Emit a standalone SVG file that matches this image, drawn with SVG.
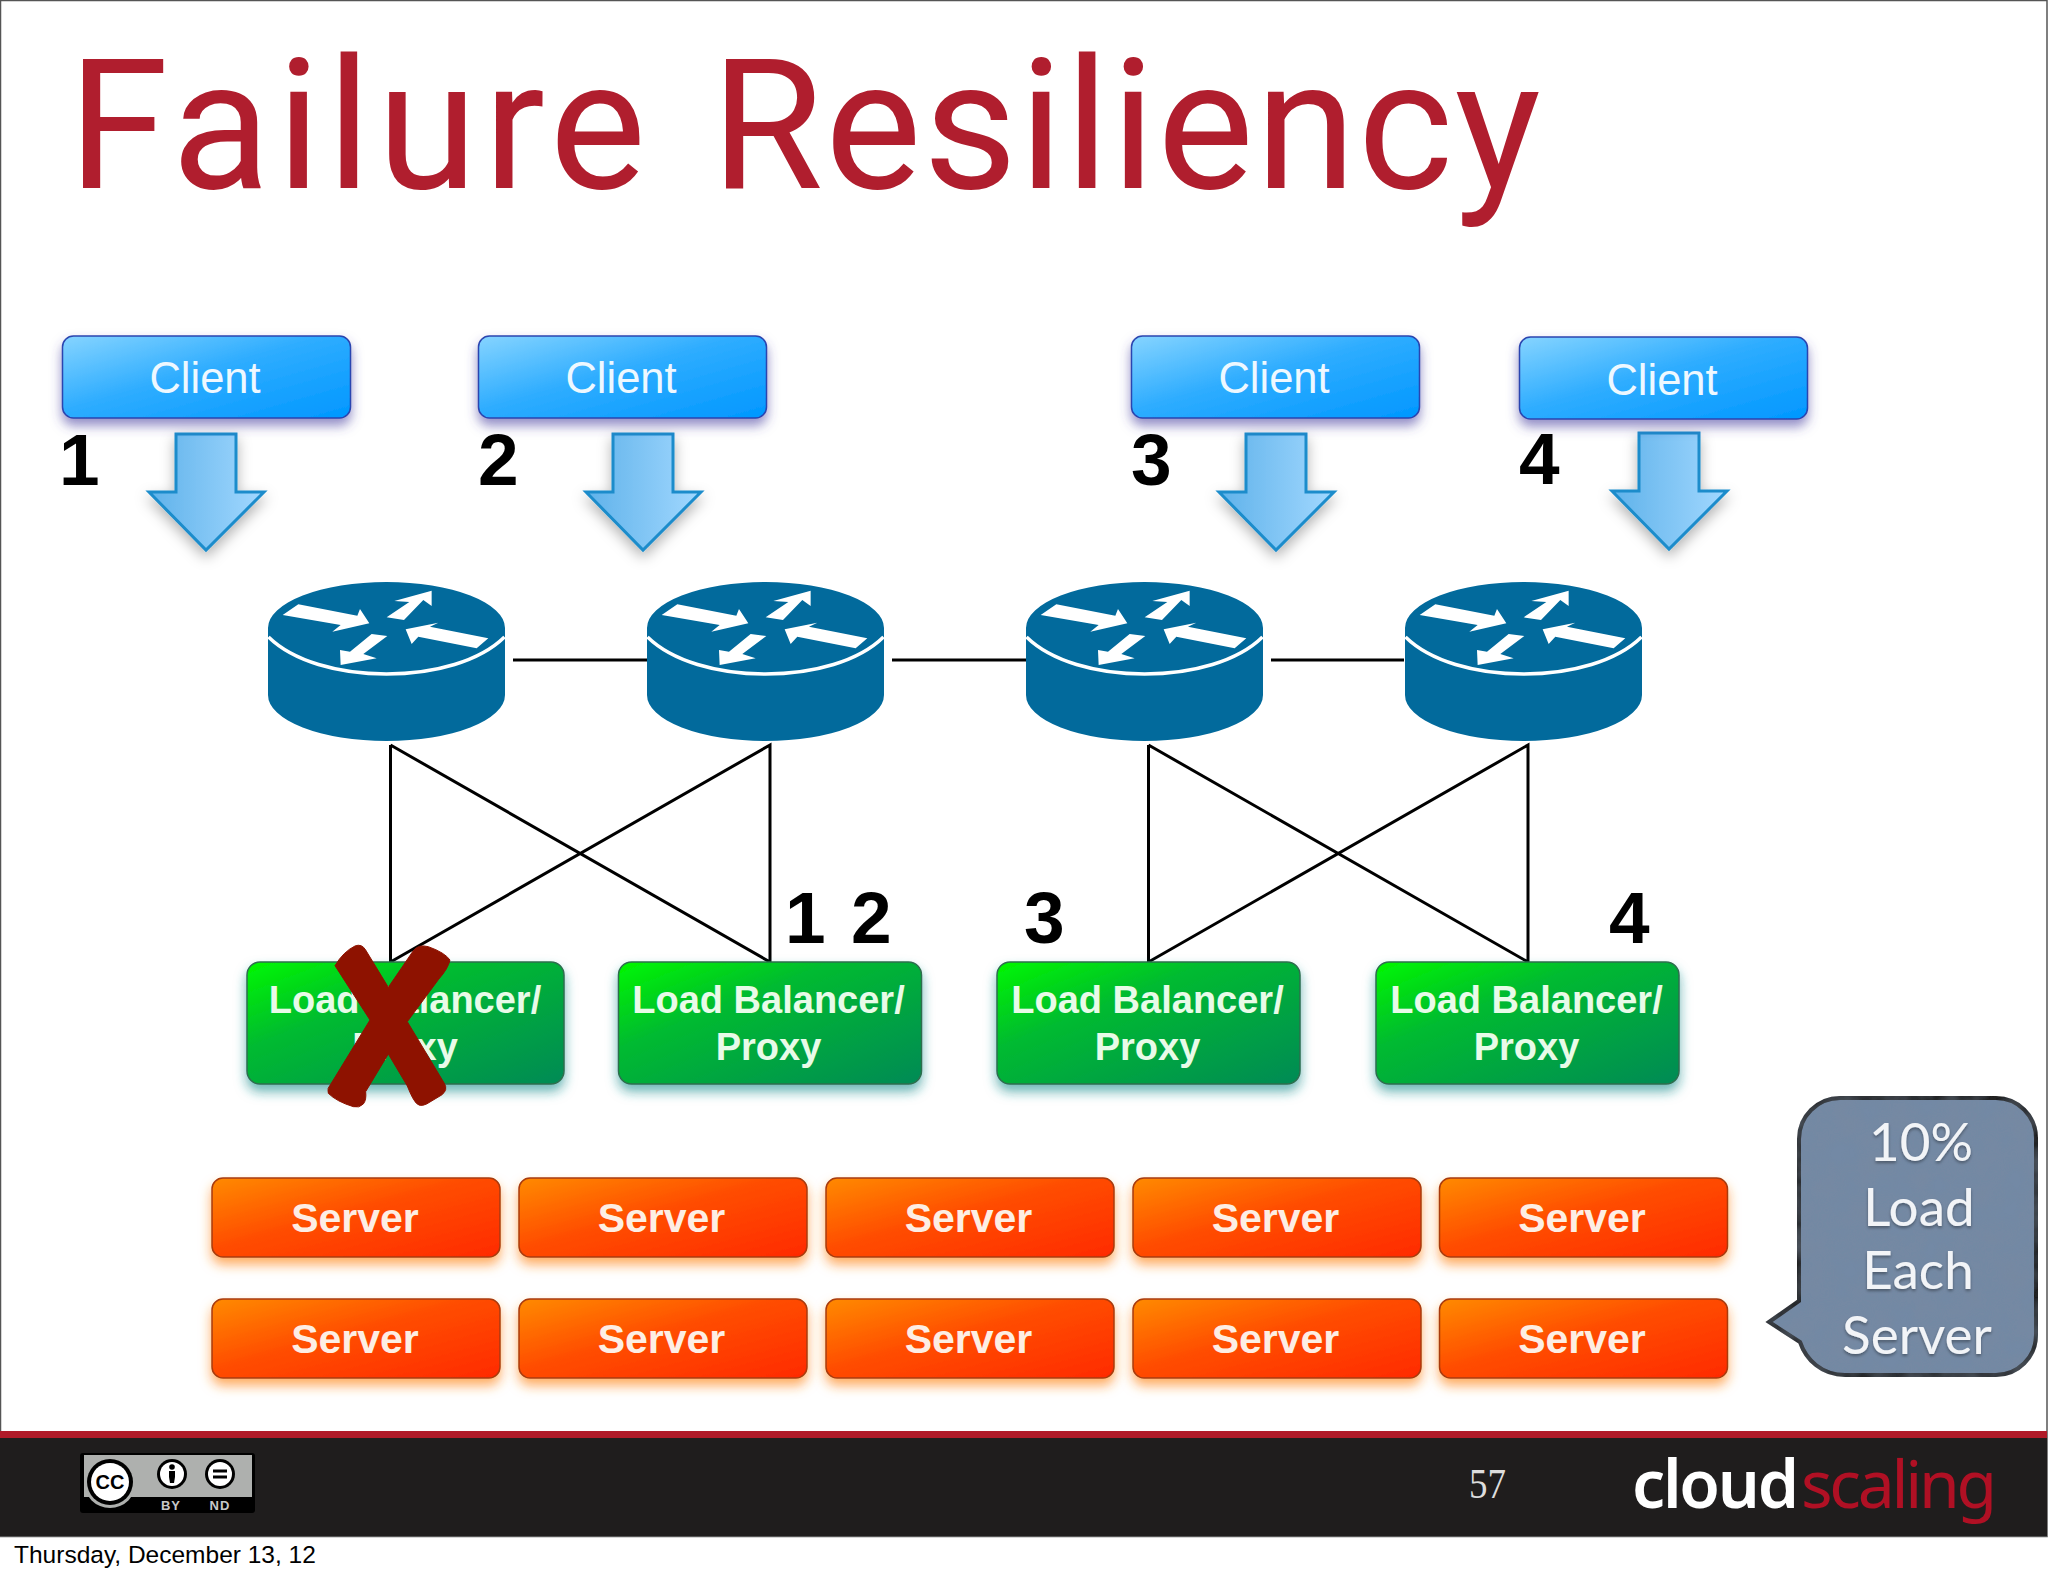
<svg xmlns="http://www.w3.org/2000/svg" width="2048" height="1576" viewBox="0 0 2048 1576">
<style>
.sans{font-family:"Liberation Sans",Arial,sans-serif}
.client{font-family:"Liberation Sans",Arial,sans-serif;font-size:43.500px;fill:#eef8ff;text-anchor:middle}
.lb{font-family:"Liberation Sans",Arial,sans-serif;font-weight:700;font-size:38px;fill:#e8fbe8;text-anchor:middle}
.srv{font-family:"Liberation Sans",Arial,sans-serif;font-weight:700;font-size:41px;fill:#fdeee4;text-anchor:middle}
.num{font-family:"Liberation Sans",Arial,sans-serif;font-weight:700;font-size:73px;fill:#000}
.call{font-family:Lato,"Open Sans",sans-serif;font-size:53px;fill:#f2f4f7;text-anchor:middle}
.conn{stroke:#000;stroke-width:3;fill:none}
.cb{stroke:#2a44b0;stroke-width:1.500;fill:url(#gc);filter:url(#sc)}
.gb{stroke:#2e6e4e;stroke-width:1.500;fill:url(#gg);filter:url(#sg)}
.sb{stroke:#a83a10;stroke-width:1.500;fill:url(#gs);filter:url(#ss)}
.ar{fill:url(#ga);stroke:#1b8ccb;stroke-width:3;filter:url(#sa)}
</style>
<defs>
<linearGradient id="gc" x1="0" y1="0" x2="1" y2="1"><stop offset="0" stop-color="#86d4ff"/><stop offset=".45" stop-color="#2fadff"/><stop offset="1" stop-color="#0097ff"/></linearGradient>
<linearGradient id="gg" x1="0" y1="0" x2="1" y2="1"><stop offset="0" stop-color="#00f800"/><stop offset=".35" stop-color="#00bb30"/><stop offset="1" stop-color="#058a55"/></linearGradient>
<linearGradient id="gs" x1="0" y1="0" x2="1" y2="1"><stop offset="0" stop-color="#ff8a00"/><stop offset=".45" stop-color="#ff4d00"/><stop offset="1" stop-color="#ff2a00"/></linearGradient>
<linearGradient id="ga" x1="0" y1="0" x2="1" y2="0"><stop offset="0" stop-color="#5fb2ea"/><stop offset="1" stop-color="#a2d8ff"/></linearGradient>
<filter id="sc" x="-10%" y="-20%" width="120%" height="150%"><feDropShadow dx="0" dy="7" stdDeviation="6" flood-color="#4a3fa0" flood-opacity=".6"/></filter>
<filter id="sg" x="-10%" y="-20%" width="120%" height="150%"><feDropShadow dx="0" dy="7" stdDeviation="6" flood-color="#1f8f90" flood-opacity=".65"/></filter>
<filter id="ss" x="-10%" y="-20%" width="120%" height="150%"><feDropShadow dx="0" dy="7" stdDeviation="6" flood-color="#ff8a20" flood-opacity=".7"/></filter>
<filter id="sa" x="-30%" y="-20%" width="160%" height="150%"><feDropShadow dx="0" dy="6" stdDeviation="7" flood-color="#000" flood-opacity=".3"/></filter>
<filter id="ts" x="-10%" y="-10%" width="120%" height="130%"><feDropShadow dx="0" dy="2" stdDeviation="1.500" flood-color="#000" flood-opacity=".35"/></filter>
<filter id="tex" x="-5%" y="-5%" width="110%" height="110%"><feTurbulence type="fractalNoise" baseFrequency=".035" numOctaves="3" seed="4"/><feColorMatrix values="0 0 0 0 .2 0 0 0 0 .25 0 0 0 0 .32 .5 0 0 0 -.12"/><feComposite in2="SourceGraphic" operator="in"/><feMerge><feMergeNode in="SourceGraphic"/><feMergeNode/></feMerge></filter>
<g id="arrow"><path class="ar" d="M-30 0H30V58H58L0 116L-57 58H-30Z"/></g>
<g id="router">
<path d="M0 47A118.500 46 0 0 1 237 47V114A118.500 46 0 0 1 0 114Z" fill="#026a9c"/>
<path d="M0.500 56C25 80 70 93 118.500 93C167 93 212 80 236.500 56" fill="none" stroke="#fff" stroke-width="3.500"/>
<g transform="translate(-18 -11) scale(.3333)" fill="#fff">
<polygon points="98,135 145,103 322,137 330,117 358,160 247,185 272,165"/>
<polygon points="410,142 478,96 433,93 545,62 545,108 520,90 462,150"/>
<polygon points="715,205 540,170 565,158 467,178 485,222 505,200 680,235"/>
<polygon points="412,198 365,192 300,245 270,240 272,285 380,265 340,252"/>
</g>
</g>
</defs>
<rect width="2048" height="1576" fill="#fff"/>
<rect x=".5" y=".5" width="2046.500" height="1536" fill="#fff" stroke="#555" stroke-width="1.500"/>
<text y="188" style="font-family:Roboto,'Liberation Sans',sans-serif;font-size:182px;fill:#b01e2e"><tspan x="68" letter-spacing="6">Failure </tspan><tspan x="711" letter-spacing="1.800">Resiliency</tspan></text>
<g id="connectors">
<path class="conn" d="M513 660H647M892 660H1026M1271 660H1404"/>
<path class="conn" d="M390.500 745V962L770 745V962L390.500 745"/>
<path class="conn" d="M1148.500 745V962L1528 745V962L1148.500 745"/>
</g>
<g id="arrow1"><use href="#arrow" x="206" y="434"/></g>
<g id="arrow2"><use href="#arrow" x="643" y="434"/></g>
<g id="arrow3"><use href="#arrow" x="1276" y="434"/></g>
<g id="arrow4"><use href="#arrow" x="1669" y="433"/></g>
<g id="client1"><rect class="cb" x="62.500" y="336" width="288" height="82" rx="11"/><text class="client" x="205" y="393">Client</text></g>
<g id="client2"><rect class="cb" x="478.500" y="336" width="288" height="82" rx="11"/><text class="client" x="621" y="393">Client</text></g>
<g id="client3"><rect class="cb" x="1131.500" y="336" width="288" height="82" rx="11"/><text class="client" x="1274" y="393">Client</text></g>
<g id="client4"><rect class="cb" x="1519.500" y="337" width="288" height="82" rx="11"/><text class="client" x="1662" y="395">Client</text></g>
<g id="numbers">
<text class="num" x="59" y="485">1</text><text class="num" x="478" y="485">2</text><text class="num" x="1131" y="485">3</text><text class="num" x="1519" y="484">4</text>
<text class="num" x="785" y="943">1</text><text class="num" x="851" y="943">2</text><text class="num" x="1024" y="943">3</text><text class="num" x="1609" y="943">4</text>
</g>
<g id="router1"><use href="#router" x="268" y="581"/></g>
<g id="router2"><use href="#router" x="647" y="581"/></g>
<g id="router3"><use href="#router" x="1026" y="581"/></g>
<g id="router4"><use href="#router" x="1405" y="581"/></g>
<g id="lb1"><rect class="gb" x="247" y="962" width="317" height="122" rx="13"/><text class="lb" x="405" y="1013">Load Balancer/</text><text class="lb" x="405" y="1060">Proxy</text></g>
<g id="lb2"><rect class="gb" x="618.500" y="962" width="303" height="122" rx="13"/><text class="lb" x="768.500" y="1013">Load Balancer/</text><text class="lb" x="768.500" y="1060">Proxy</text></g>
<g id="lb3"><rect class="gb" x="997" y="962" width="303" height="122" rx="13"/><text class="lb" x="1147.500" y="1013">Load Balancer/</text><text class="lb" x="1147.500" y="1060">Proxy</text></g>
<g id="lb4"><rect class="gb" x="1376" y="962" width="303" height="122" rx="13"/><text class="lb" x="1526.500" y="1013">Load Balancer/</text><text class="lb" x="1526.500" y="1060">Proxy</text></g>
<g id="failx"><path transform="translate(200 900) scale(.3333)" fill="#8e1200" stroke="#8e1200" stroke-width="3" stroke-linejoin="round" d="M405 197Q430 155 465 138Q485 130 497 150L565 262L640 152Q655 132 685 140Q735 158 750 180Q745 205 716 238L622 365L733 550Q745 570 725 585L680 612Q655 625 642 600Q635 590 622 558L565 462L497 575Q500 600 490 612Q478 625 460 620Q410 605 385 580Q380 565 392 553L510 360Z"/></g>
<g id="srv-a1"><rect class="sb" x="212" y="1178" width="288" height="79" rx="11"/><text class="srv" x="355" y="1232">Server</text></g>
<g id="srv-a2"><rect class="sb" x="519" y="1178" width="288" height="79" rx="11"/><text class="srv" x="661.500" y="1232">Server</text></g>
<g id="srv-a3"><rect class="sb" x="826" y="1178" width="288" height="79" rx="11"/><text class="srv" x="968.500" y="1232">Server</text></g>
<g id="srv-a4"><rect class="sb" x="1133" y="1178" width="288" height="79" rx="11"/><text class="srv" x="1275.500" y="1232">Server</text></g>
<g id="srv-a5"><rect class="sb" x="1439.500" y="1178" width="288" height="79" rx="11"/><text class="srv" x="1582" y="1232">Server</text></g>
<g id="srv-b1"><rect class="sb" x="212" y="1299" width="288" height="79" rx="11"/><text class="srv" x="355" y="1353">Server</text></g>
<g id="srv-b2"><rect class="sb" x="519" y="1299" width="288" height="79" rx="11"/><text class="srv" x="661.500" y="1353">Server</text></g>
<g id="srv-b3"><rect class="sb" x="826" y="1299" width="288" height="79" rx="11"/><text class="srv" x="968.500" y="1353">Server</text></g>
<g id="srv-b4"><rect class="sb" x="1133" y="1299" width="288" height="79" rx="11"/><text class="srv" x="1275.500" y="1353">Server</text></g>
<g id="srv-b5"><rect class="sb" x="1439.500" y="1299" width="288" height="79" rx="11"/><text class="srv" x="1582" y="1353">Server</text></g>
<g id="callout">
<path d="M1840 1098H1996A40 40 0 0 1 2036 1138V1335A40 40 0 0 1 1996 1375H1845C1822 1375 1806 1360 1800 1342L1769 1322L1799 1301V1139A41 41 0 0 1 1840 1098Z" fill="#7389a5" stroke="#222" stroke-width="4" filter="url(#tex)"/>
<g filter="url(#ts)"><text class="call" x="1921" y="1161">10%</text><text class="call" x="1919" y="1226">Load</text><text class="call" x="1918" y="1289">Each</text><text class="call" x="1917" y="1354">Server</text></g>
</g>
<g id="footer">
<rect x="0" y="1431" width="2047" height="8" fill="#b01a28"/>
<rect x="0" y="1438" width="2047" height="98" fill="#1f1d1d"/>
<g id="cc-badge">
<rect x="80" y="1453" width="175" height="60" rx="3" fill="#000"/>
<path d="M84 1455H252V1497H84Z" fill="#aeb0ae"/>
<circle cx="110" cy="1482" r="26" fill="#aeb0ae"/><circle cx="110" cy="1482" r="23" fill="#000"/><circle cx="110" cy="1482" r="19" fill="#fff"/>
<text x="110" y="1489" text-anchor="middle" class="sans" style="font-size:20px;font-weight:700;fill:#000">CC</text>
<circle cx="172" cy="1474" r="15" fill="#000"/><circle cx="172" cy="1474" r="12" fill="#fff"/>
<circle cx="172" cy="1467" r="2.800" fill="#000"/><path d="M169 1471H175V1477L174 1483H170L169 1477Z" fill="#000"/>
<circle cx="220" cy="1474" r="15" fill="#000"/><circle cx="220" cy="1474" r="12" fill="#fff"/>
<path d="M213 1469.500H227V1472.500H213ZM213 1475.500H227V1478.500H213Z" fill="#000"/>
<text x="171" y="1510" text-anchor="middle" class="sans" style="font-size:13px;font-weight:700;fill:#c8c8c8;letter-spacing:1px">BY</text>
<text x="220" y="1510" text-anchor="middle" class="sans" style="font-size:13px;font-weight:700;fill:#c8c8c8;letter-spacing:1px">ND</text>
</g>
<text x="1469" y="1498" textLength="37" lengthAdjust="spacingAndGlyphs" style="font-family:'Liberation Serif',serif;font-size:43px;fill:#ddd">57</text>
<text x="1632" y="1508" textLength="167" style="font-family:'Noto Sans',sans-serif;font-size:66px;font-weight:600;fill:#fff">cloud</text>
<text x="1801" y="1508" textLength="196" style="font-family:'Noto Sans',sans-serif;font-size:66px;font-weight:400;fill:#b01024">scaling</text>
</g>
<text x="14" y="1563" class="sans" style="font-size:24.500px;fill:#000">Thursday, December 13, 12</text>
</svg>
